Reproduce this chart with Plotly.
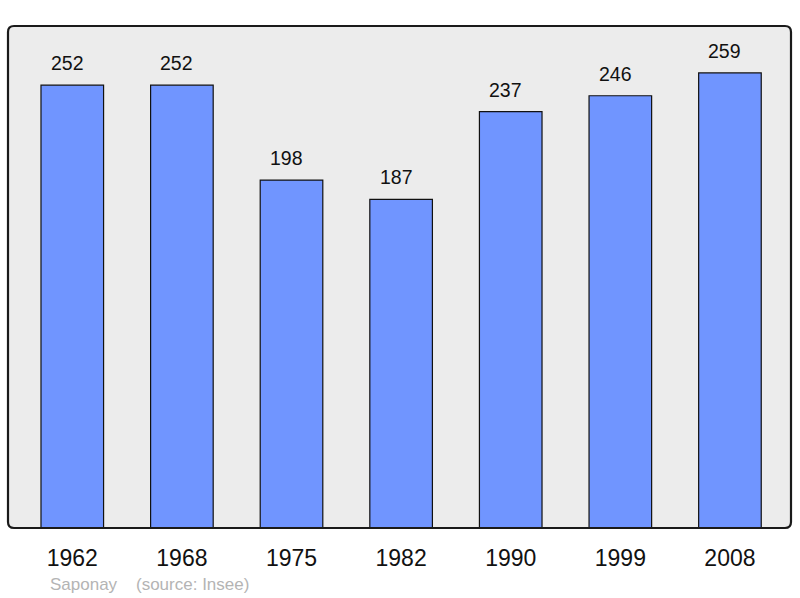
import plotly.graph_objects as go

years = ["1962", "1968", "1975", "1982", "1990", "1999", "2008"]
population = [252, 252, 198, 187, 237, 246, 259]
commune = "Saponay"
source = "(source: Insee)"

W, H = 800, 598
ml, mr, mt, mb = 8, 9, 26, 70
pw, ph = W - ml - mr, H - mt - mb

xpos = list(range(len(years)))

fig = go.Figure()
fig.add_trace(go.Bar(
    x=xpos, y=population, width=0.571,
    marker=dict(color="#7095ff", line=dict(color="#111111", width=1.2)),
    hoverinfo="skip",
))

for x, v in zip(xpos, population):
    fig.add_annotation(x=x, y=v, text=str(v), showarrow=False, yshift=22, xshift=-5,
                       font=dict(family="Liberation Sans, Arial", size=19.5, color="#111111"))

# rounded frame
r = 6
rx, ry = r / pw, r / ph
path = (f"M {rx},0 L {1-rx},0 Q 1,0 1,{ry} L 1,{1-ry} Q 1,1 {1-rx},1 "
        f"L {rx},1 Q 0,1 0,{1-ry} L 0,{ry} Q 0,0 {rx},0 Z")
fig.add_shape(type="path", path=path, xref="paper", yref="paper",
              fillcolor="#ececec", line=dict(width=0), layer="below")
fig.add_shape(type="path", path=path, xref="paper", yref="paper",
              fillcolor="rgba(0,0,0,0)", line=dict(color="#1a1a1a", width=2.2), layer="above")

src_y = (H - mb - 584) / ph
fig.add_annotation(text=commune, x=(47.5 - ml) / pw, y=src_y, xref="paper", yref="paper",
                   showarrow=False, xanchor="left", yanchor="middle",
                   font=dict(family="Liberation Sans, Arial", size=17, color="#b4b4b4"))
fig.add_annotation(text=source, x=(134 - ml) / pw, y=src_y, xref="paper", yref="paper",
                   showarrow=False, xanchor="left", yanchor="middle",
                   font=dict(family="Liberation Sans, Arial", size=17, color="#b4b4b4"))

fig.update_layout(
    width=W, height=H,
    margin=dict(l=ml, r=mr, t=mt, b=mb),
    paper_bgcolor="white", plot_bgcolor="rgba(0,0,0,0)",
    showlegend=False,
    xaxis=dict(range=[-0.5865, 6.557], tickmode="array", tickvals=xpos, ticktext=years,
               showgrid=False, zeroline=False, showline=False, ticks="",
               ticklabelstandoff=14,
               tickfont=dict(family="Liberation Sans, Arial", size=23, color="#111111"),
               fixedrange=True),
    yaxis=dict(range=[0, 285.7], showgrid=False, zeroline=False, showline=False,
               showticklabels=False, ticks="", fixedrange=True),
)

fig.write_html("out.html", config={"displayModeBar": False},
               post_script="document.body.style.margin='0';document.body.style.overflow='hidden';")
